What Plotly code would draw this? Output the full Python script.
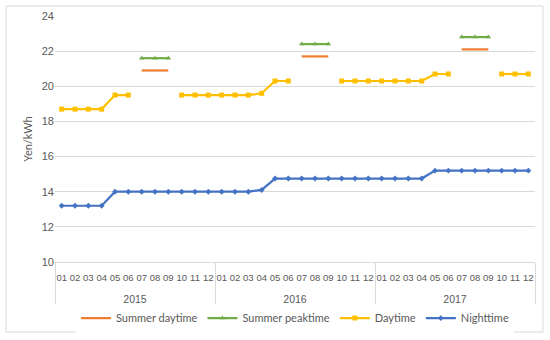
import plotly.graph_objects as go

years = ["2015"] * 12 + ["2016"] * 12 + ["2017"] * 12
months = ["01", "02", "03", "04", "05", "06", "07", "08", "09", "10", "11", "12"] * 3
year_labels = ["2015", "2016", "2017"]

N = None
summer_daytime = [N]*6 + [20.9, 20.9, 20.9] + [N]*3 + \
                 [N]*6 + [21.7, 21.7, 21.7] + [N]*3 + \
                 [N]*6 + [22.1, 22.1, 22.1] + [N]*3
summer_peaktime = [N]*6 + [21.6, 21.6, 21.6] + [N]*3 + \
                  [N]*6 + [22.4, 22.4, 22.4] + [N]*3 + \
                  [N]*6 + [22.8, 22.8, 22.8] + [N]*3
daytime = [18.7, 18.7, 18.7, 18.7, 19.5, 19.5, N, N, N, 19.5, 19.5, 19.5,
           19.5, 19.5, 19.5, 19.6, 20.3, 20.3, N, N, N, 20.3, 20.3, 20.3,
           20.3, 20.3, 20.3, 20.3, 20.7, 20.7, N, N, N, 20.7, 20.7, 20.7]
nighttime = [13.2, 13.2, 13.2, 13.2, 14.0, 14.0, 14.0, 14.0, 14.0, 14.0, 14.0, 14.0,
             14.0, 14.0, 14.0, 14.1, 14.75, 14.75, 14.75, 14.75, 14.75, 14.75, 14.75, 14.75,
             14.75, 14.75, 14.75, 14.75, 15.2, 15.2, 15.2, 15.2, 15.2, 15.2, 15.2, 15.2]

# unique category keys (year-month); month text shown as tick labels
x = [f"{y}-{m}" for y, m in zip(years, months)]

FONT = "Lato, Liberation Sans, sans-serif"
TICKFONT = "Liberation Sans, Arial, sans-serif"
TXT = "#595959"
GRID = "#D9D9D9"

fig = go.Figure()
fig.add_trace(go.Scatter(x=x, y=summer_daytime, name="Summer daytime", mode="lines",
                         line=dict(color="#ED7D31", width=2.2), connectgaps=False))
fig.add_trace(go.Scatter(x=x, y=summer_peaktime, name="Summer peaktime", mode="lines+markers",
                         line=dict(color="#70AD47", width=2.2),
                         marker=dict(symbol="triangle-up", size=5, color="#70AD47"),
                         connectgaps=False))
fig.add_trace(go.Scatter(x=x, y=daytime, name="Daytime", mode="lines+markers",
                         line=dict(color="#FFC000", width=2.2),
                         marker=dict(symbol="square", size=5, color="#FFC000"),
                         connectgaps=False))
fig.add_trace(go.Scatter(x=x, y=nighttime, name="Nighttime", mode="lines+markers",
                         line=dict(color="#4472C4", width=2.2),
                         marker=dict(symbol="diamond", size=4.5, color="#4472C4"),
                         connectgaps=False))
# empty carrier trace for the year axis
fig.add_trace(go.Scatter(x=year_labels, y=[None] * len(year_labels), xaxis="x2",
                         showlegend=False, hoverinfo="skip", mode="lines"))

# outer chart border (paper coords: plot area x 55..535, y 16..262)
fig.add_shape(type="rect", xref="paper", yref="paper",
              x0=(6 - 55) / 480, x1=(543 - 55) / 480,
              y0=(262 - 332) / 246, y1=(262 - 6) / 246,
              line=dict(color=GRID, width=1), layer="below")

fig.update_layout(
    width=550, height=340,
    margin=dict(l=55, r=15, t=16, b=78, autoexpand=False),
    paper_bgcolor="white", plot_bgcolor="white",
    font=dict(family=FONT, color=TXT, size=11),
    showlegend=True,
    legend=dict(orientation="h", x=0.5, xanchor="center", y=-0.228, yanchor="middle",
                font=dict(size=11, color=TXT), itemwidth=30, tracegroupgap=0),
    xaxis=dict(type="category", categoryorder="array", categoryarray=x,
               tickmode="array", tickvals=x, ticktext=months,
               range=[-0.5, len(x) - 0.5], showline=True, linecolor=GRID, linewidth=1,
               showgrid=False, zeroline=False, ticks="", tickangle=0,
               tickfont=dict(family=TICKFONT, size=9.5, color=TXT),
               ticklabelstandoff=7, automargin=False),
    xaxis2=dict(type="category", overlaying="x", side="bottom", anchor="y",
                categoryorder="array", categoryarray=year_labels,
                range=[-0.5, len(year_labels) - 0.5], tickson="boundaries",
                ticks="outside", ticklen=41, tickwidth=1, tickcolor=GRID,
                showline=False, showgrid=False, zeroline=False, tickangle=0,
                tickfont=dict(family=TICKFONT, size=10.5, color=TXT),
                ticklabelstandoff=29, automargin=False),
    yaxis=dict(range=[10, 24], dtick=2, showgrid=True, gridcolor=GRID, gridwidth=1,
               zeroline=False, showline=False, ticks="",
               tickfont=dict(family=TICKFONT, size=11, color=TXT), automargin=False,
               title=dict(text="Yen/kWh", font=dict(size=11, color=TXT), standoff=6)),
)

fig.write_html("out.html", config={"displayModeBar": False},
               post_script="document.body.style.margin='0px';")
